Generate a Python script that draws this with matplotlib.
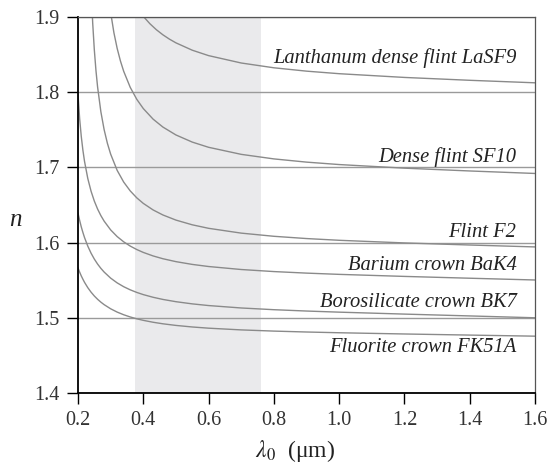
import matplotlib
matplotlib.use("Agg")
import matplotlib.pyplot as plt

plt.rcParams["font.family"] = ["Liberation Serif", "DejaVu Serif"]
plt.rcParams["mathtext.fontset"] = "stix"

# refractive index n vs vacuum wavelength (um)
wl_lasf9 = [0.395, 0.40, 0.42, 0.44, 0.46, 0.48, 0.50, 0.55, 0.60, 0.70, 0.80, 0.90, 1.0, 1.2, 1.4, 1.6]
n_lasf9 = [1.90365, 1.90089, 1.89116, 1.88311, 1.87634, 1.87058, 1.86563, 1.85585, 1.84865,
           1.83883, 1.83247, 1.82800, 1.82461, 1.81964, 1.81583, 1.81249]

wl_sf10 = [0.295, 0.30, 0.31, 0.32, 0.33, 0.34, 0.36, 0.38, 0.40, 0.43, 0.46, 0.50, 0.55, 0.60,
           0.70, 0.80, 0.90, 1.0, 1.2, 1.4, 1.6]
n_sf10 = [1.92303, 1.90617, 1.87912, 1.85823, 1.84152, 1.82778, 1.80646, 1.79058, 1.77826,
          1.76420, 1.75366, 1.74315, 1.73366, 1.72674, 1.71735, 1.71130, 1.70702, 1.70379,
          1.69899, 1.69526, 1.69194]

wl_f2 = [0.24, 0.245, 0.25, 0.255, 0.26, 0.27, 0.28, 0.29, 0.30, 0.32, 0.34, 0.36, 0.38, 0.40,
         0.43, 0.46, 0.50, 0.55, 0.60, 0.70, 0.80, 0.90, 1.0, 1.2, 1.4, 1.6]
n_f2 = [1.94105, 1.89206, 1.85631, 1.82887, 1.80701, 1.77413, 1.75032, 1.73212, 1.71767,
        1.69602, 1.68048, 1.66874, 1.65954, 1.65216, 1.64345, 1.63676, 1.62994, 1.62366,
        1.61900, 1.61260, 1.60839, 1.60538, 1.60307, 1.59957, 1.59679, 1.59425]

wl_short = [0.20, 0.205, 0.21, 0.215, 0.22, 0.23, 0.24, 0.25, 0.26, 0.27, 0.28, 0.30, 0.32, 0.34,
            0.36, 0.38, 0.40, 0.43, 0.46, 0.50, 0.55, 0.60, 0.70, 0.80, 0.90, 1.0, 1.2, 1.4, 1.6]
n_bak4 = [1.79715, 1.76497, 1.74126, 1.72284, 1.70799, 1.68523, 1.66836, 1.65524, 1.64467,
          1.63594, 1.62859, 1.61689, 1.60800, 1.60101, 1.59539, 1.59078, 1.58695, 1.58228,
          1.57856, 1.57468, 1.57100, 1.56820, 1.56421, 1.56148, 1.55942, 1.55776, 1.55504,
          1.55263, 1.55028]
n_bk7 = [1.63912, 1.62960, 1.62092, 1.61350, 1.60670, 1.59531, 1.58594, 1.57811, 1.57147,
         1.56578, 1.56086, 1.55277, 1.54643, 1.54134, 1.53719, 1.53375, 1.53085, 1.52729,
         1.52443, 1.52142, 1.51852, 1.51629, 1.51306, 1.51078, 1.50900, 1.50751, 1.50492,
         1.50249, 1.50002]
n_fk51a = [1.56626, 1.56080, 1.55573, 1.55130, 1.54716, 1.54007, 1.53410, 1.52900, 1.52463,
           1.52083, 1.51751, 1.51198, 1.50759, 1.50404, 1.50111, 1.49868, 1.49662, 1.49408,
           1.49203, 1.48987, 1.48780, 1.48620, 1.48391, 1.48232, 1.48111, 1.48012, 1.47848,
           1.47701, 1.47557]

labels = ["Lanthanum dense flint LaSF9", "Dense flint SF10", "Flint F2",
          "Barium crown BaK4", "Borosilicate crown BK7", "Fluorite crown FK51A"]
label_n = [1.839, 1.7072, 1.607, 1.5636, 1.514, 1.455]

visible = (0.375, 0.76)
xticks = [0.2, 0.4, 0.6, 0.8, 1.0, 1.2, 1.4, 1.6]
yticks = [1.4, 1.5, 1.6, 1.7, 1.8, 1.9]

fig = plt.figure(figsize=(5.48, 4.66), dpi=100)
ax = fig.add_axes([78 / 548, 1 - 393 / 466, 457 / 548, 376 / 466])

ax.axvspan(*visible, color="#eaeaec", lw=0, zorder=0)
ax.set_yticks(yticks)
ax.grid(axis="y", color="#9a9a9a", lw=1.0, zorder=1)

curve_kw = dict(color="#8a8a8a", lw=1.0, zorder=2)
ax.plot(wl_lasf9, n_lasf9, **curve_kw)
ax.plot(wl_sf10, n_sf10, **curve_kw)
ax.plot(wl_f2, n_f2, **curve_kw)
ax.plot(wl_short, n_bak4, **curve_kw)
ax.plot(wl_short, n_bk7, **curve_kw)
ax.plot(wl_short, n_fk51a, **curve_kw)

for txt, yv in zip(labels, label_n):
    ax.text(1.543, yv, txt, ha="right", va="baseline", fontsize=14.8,
            style="italic", color="#222222", zorder=3)

ax.set_xlim(0.2, 1.6)
ax.set_ylim(1.4, 1.9)
ax.set_xticks(xticks)
ax.set_xticklabels([f"{v:.1f}" for v in xticks])
ax.set_yticklabels([f"{v:.1f}" for v in yticks])
ax.tick_params(direction="out", length=8, width=1.0, labelsize=14.5,
               labelcolor="#333333", pad=5)

for side in ("left", "bottom"):
    ax.spines[side].set_linewidth(1.3)
    ax.spines[side].set_color("black")
for side in ("top", "right"):
    ax.spines[side].set_linewidth(0.9)
    ax.spines[side].set_color("#555555")

fig.text(295 / 548, 1 - 451 / 466, r"$\lambda_0$  (μm)", ha="center", va="center",
         fontsize=17, color="#222222")
fig.text(15 / 548, 1 - 220 / 466, "n", ha="center", va="center", fontsize=18,
         style="italic", color="#222222")

fig.savefig("out.png", dpi=100)
